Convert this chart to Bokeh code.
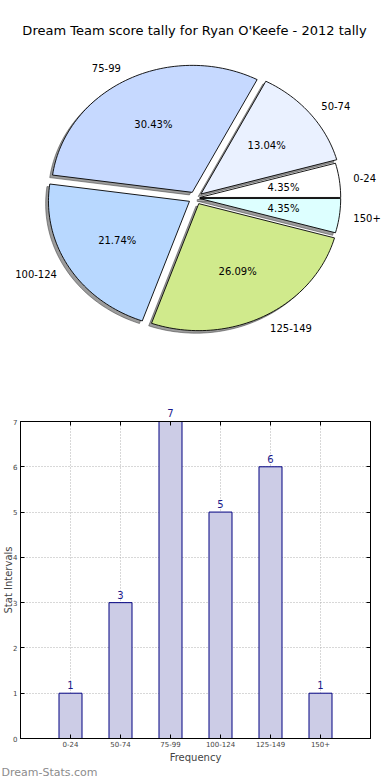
import math
from bokeh.plotting import figure
from bokeh.models import Label, FixedTicker, LinearAxis, Range1d, Title
from bokeh.core.properties import value
from bokeh.embed import file_html
from bokeh.resources import INLINE

# ---- data ----
categories = ["0-24", "50-74", "75-99", "100-124", "125-149", "150+"]
counts = [1, 3, 7, 5, 6, 1]
pie_colors = ["#FFFFFF", "#EAF1FF", "#C6D9FF", "#B8D8FF", "#D0EA8C", "#DDFFFF"]
explode = [0.03, 0.05, 0.05, 0.05, 0.05, 0.03]
title_text = "Dream Team score tally for Ryan O'Keefe - 2012 tally"
y_ticks = [0, 1, 2, 3, 4, 5, 6, 7]

FONT = "DejaVu Sans"
W = 390
H1 = 390
H2 = 390

# ---- pie ----
rx, ry = 141.0, 127.0
cx_px, cy_px = 195.0, 197.5
pie = figure(width=W, height=H1, output_backend="svg", toolbar_location=None,
             x_axis_type=None, y_axis_type=None,
             x_range=Range1d(-cx_px / rx, (W - cx_px) / rx),
             y_range=Range1d(-(H1 - cy_px) / ry, cy_px / ry),
             min_border=0, outline_line_color=None)
pie.grid.visible = False

total = float(sum(counts))
theta = 0.0
wedges = []
for i, c in enumerate(counts):
    frac = c / total
    t1 = theta
    t2 = theta + 360.0 * frac
    tm = math.radians((t1 + t2) / 2)
    ox = explode[i] * math.cos(tm)
    oy = explode[i] * math.sin(tm)
    n = max(4, int((t2 - t1) / 1.5))
    px = [ox]
    py = [oy]
    for k in range(n + 1):
        a = math.radians(t1 + (t2 - t1) * k / n)
        px.append(ox + math.cos(a))
        py.append(oy + math.sin(a))
    wedges.append(dict(px=px, py=py, ox=ox, oy=oy, tm=tm, frac=frac))
    theta = t2

for i, w in enumerate(wedges):
    pie.patch([v - 0.02 for v in w["px"]], [v - 0.02 for v in w["py"]],
              fill_color="#3a3a3a", fill_alpha=0.5,
              line_color="#3a3a3a", line_alpha=0.5, line_width=1)
    pie.patch(w["px"], w["py"], fill_color=pie_colors[i], line_color="black",
              line_width=0.9)

pct_x = [w["ox"] + 0.6 * math.cos(w["tm"]) for w in wedges]
pct_y = [w["oy"] + 0.6 * math.sin(w["tm"]) for w in wedges]
pct_t = ["%.2f%%" % (100 * w["frac"]) for w in wedges]
pie.text(x=pct_x, y=pct_y, text=pct_t, text_align="center",
         text_baseline="middle", text_font=value(FONT),
         text_font_size="10px", text_color="black")

for i, w in enumerate(wedges):
    lx = w["ox"] + 1.1 * math.cos(w["tm"])
    ly = w["oy"] + 1.1 * math.sin(w["tm"])
    pie.text(x=[lx], y=[ly], text=[categories[i]],
             text_align="left" if lx > 0 else "right",
             text_baseline="middle", text_font=value(FONT),
             text_font_size="10px", text_color="black")

pie.add_layout(Label(x=194, y=H1 - 30, x_units="screen", y_units="screen",
                     text=title_text, text_align="center", text_baseline="middle",
                     text_font=FONT, text_font_size="13px", text_color="black"))

# ---- bar chart ----
pos = list(range(len(categories)))
ymax = max(y_ticks)
bar = figure(width=W, height=H2, output_backend="svg", toolbar_location=None,
             x_range=Range1d(-1, 6), y_range=Range1d(0, ymax),
             min_border_left=19, min_border_right=20,
             min_border_top=31, min_border_bottom=38,
             outline_line_color="black", outline_line_width=1)

bar.vbar(x=pos, top=counts, width=0.46, fill_color="#CCCCE6",
         line_color="#000080", line_width=1)
inside = [i for i in pos if counts[i] < ymax]
bar.text(x=[pos[i] for i in inside], y=[counts[i] for i in inside],
         text=[str(counts[i]) for i in inside], text_align="center",
         text_baseline="bottom", y_offset=-4, text_font=value(FONT),
         text_font_size="10px", text_color="#1a1a8c")

xa = bar.xaxis[0]
xa.ticker = FixedTicker(ticks=pos)
xa.major_label_overrides = {p: categories[p] for p in pos}
xa.axis_label = "Frequency"
ya = bar.yaxis[0]
ya.ticker = FixedTicker(ticks=y_ticks)
ya.axis_label = "Stat Intervals"
for ax in (xa, ya):
    ax.major_tick_in = 4
    ax.major_tick_out = 0
    ax.minor_tick_line_color = None
    ax.major_label_text_font = FONT
    ax.major_label_text_font_size = "7px"
    ax.axis_line_color = "black"
    ax.major_tick_line_color = "black"
    ax.axis_label_text_font = FONT
    ax.axis_label_text_font_size = "10px"
    ax.axis_label_text_font_style = "normal"
xa.major_label_standoff = 2
xa.axis_label_standoff = 2
ya.major_label_standoff = 3
ya.axis_label_standoff = -4

# value labels sitting above the frame go on the top axis (not clipped)
top_ax = LinearAxis(ticker=FixedTicker(ticks=pos), major_tick_in=4, major_tick_out=0,
                    minor_tick_line_color=None,
                    major_label_overrides={p: (str(counts[p]) if counts[p] >= ymax else "")
                                           for p in pos},
                    major_label_text_font=FONT, major_label_text_font_size="10px",
                    major_label_text_color="#1a1a8c", major_label_standoff=5)
right_ax = LinearAxis(ticker=FixedTicker(ticks=y_ticks), major_tick_in=4, major_tick_out=0,
                      minor_tick_line_color=None,
                      major_label_overrides={t: "" for t in y_ticks},
                      major_label_standoff=0)
bar.add_layout(top_ax, "above")
bar.add_layout(right_ax, "right")

bar.xgrid[0].ticker = FixedTicker(ticks=pos)
bar.ygrid[0].ticker = FixedTicker(ticks=y_ticks)
for g in (bar.xgrid[0], bar.ygrid[0]):
    g.grid_line_color = "#b0b0b0"
    g.grid_line_dash = "1 2"
    g.grid_line_width = 1

bar.add_layout(Title(text="Dream-Stats.com", align="left", offset=-19, standoff=0,
                     vertical_align="top",
                     text_font=FONT, text_font_size="11px", text_font_style="normal",
                     text_color="#8c8c8c"), "below")

open("out.html", "w").write(file_html([pie, bar], INLINE))
